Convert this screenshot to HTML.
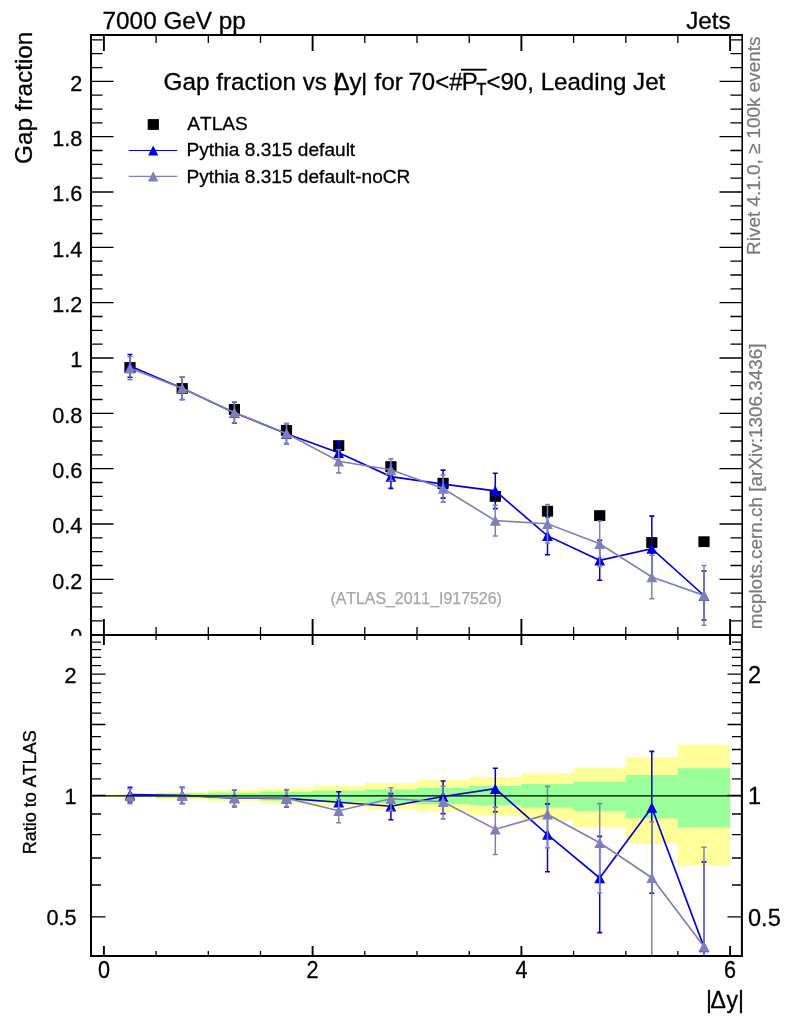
<!DOCTYPE html>
<html lang="en"><head><meta charset="utf-8"><title>Gap fraction vs |Δy| for 70&lt;pT&lt;90, Leading Jet</title>
<style>html,body{margin:0;padding:0;background:#fff}body{width:786px;height:1024px;overflow:hidden}svg{display:block}text{font-kerning:none}</style>
</head><body>
<svg width="786" height="1024" viewBox="0 0 786 1024" font-family="'Liberation Sans', Arial, Helvetica, sans-serif">
<defs>
<clipPath id="ct"><rect x="91.0" y="35.0" width="651.0" height="601.0"/></clipPath>
<clipPath id="cb"><rect x="91.0" y="635.0" width="651.0" height="321.0"/></clipPath>
<clipPath id="cl"><rect x="0" y="0" width="91.0" height="635.8"/></clipPath>
</defs>
<rect width="786" height="1024" fill="#fff"/>
<g clip-path="url(#cb)">
<rect x="103.9" y="794.6" width="52.5" height="2.3" fill="#ffff99"/>
<rect x="156.1" y="792.2" width="52.5" height="7.1" fill="#ffff99"/>
<rect x="208.3" y="790.3" width="52.5" height="10.6" fill="#ffff99"/>
<rect x="260.5" y="788.3" width="52.5" height="15.5" fill="#ffff99"/>
<rect x="312.6" y="786.0" width="52.5" height="20.3" fill="#ffff99"/>
<rect x="364.8" y="782.9" width="52.5" height="26.0" fill="#ffff99"/>
<rect x="417.0" y="780.1" width="52.5" height="31.6" fill="#ffff99"/>
<rect x="469.2" y="776.9" width="52.5" height="38.7" fill="#ffff99"/>
<rect x="521.4" y="773.0" width="52.5" height="47.3" fill="#ffff99"/>
<rect x="573.6" y="767.9" width="52.5" height="59.1" fill="#ffff99"/>
<rect x="625.8" y="757.2" width="52.5" height="86.8" fill="#ffff99"/>
<rect x="677.9" y="744.6" width="52.2" height="121.1" fill="#ffff99"/>
<rect x="103.9" y="795.0" width="52.5" height="1.5" fill="#99ff99"/>
<rect x="156.1" y="793.4" width="52.5" height="4.6" fill="#99ff99"/>
<rect x="208.3" y="792.6" width="52.5" height="6.0" fill="#99ff99"/>
<rect x="260.5" y="791.7" width="52.5" height="8.8" fill="#99ff99"/>
<rect x="312.6" y="790.6" width="52.5" height="11.2" fill="#99ff99"/>
<rect x="364.8" y="789.3" width="52.5" height="14.3" fill="#99ff99"/>
<rect x="417.0" y="787.8" width="52.5" height="16.4" fill="#99ff99"/>
<rect x="469.2" y="786.0" width="52.5" height="19.3" fill="#99ff99"/>
<rect x="521.4" y="784.0" width="52.5" height="23.7" fill="#99ff99"/>
<rect x="573.6" y="781.7" width="52.5" height="29.5" fill="#99ff99"/>
<rect x="625.8" y="775.0" width="52.5" height="43.3" fill="#99ff99"/>
<rect x="677.9" y="768.2" width="52.2" height="59.2" fill="#99ff99"/>
</g>
<path d="M91.0,634.6h22.5M742.0,634.6h-22.5M91.0,620.8h11.6M742.0,620.8h-11.6M91.0,606.9h11.6M742.0,606.9h-11.6M91.0,593.1h11.6M742.0,593.1h-11.6M91.0,579.3h22.5M742.0,579.3h-22.5M91.0,565.5h11.6M742.0,565.5h-11.6M91.0,551.6h11.6M742.0,551.6h-11.6M91.0,537.8h11.6M742.0,537.8h-11.6M91.0,524.0h22.5M742.0,524.0h-22.5M91.0,510.1h11.6M742.0,510.1h-11.6M91.0,496.3h11.6M742.0,496.3h-11.6M91.0,482.5h11.6M742.0,482.5h-11.6M91.0,468.6h22.5M742.0,468.6h-22.5M91.0,454.8h11.6M742.0,454.8h-11.6M91.0,441.0h11.6M742.0,441.0h-11.6M91.0,427.1h11.6M742.0,427.1h-11.6M91.0,413.3h22.5M742.0,413.3h-22.5M91.0,399.5h11.6M742.0,399.5h-11.6M91.0,385.7h11.6M742.0,385.7h-11.6M91.0,371.8h11.6M742.0,371.8h-11.6M91.0,358.0h22.5M742.0,358.0h-22.5M91.0,344.2h11.6M742.0,344.2h-11.6M91.0,330.3h11.6M742.0,330.3h-11.6M91.0,316.5h11.6M742.0,316.5h-11.6M91.0,302.7h22.5M742.0,302.7h-22.5M91.0,288.9h11.6M742.0,288.9h-11.6M91.0,275.0h11.6M742.0,275.0h-11.6M91.0,261.2h11.6M742.0,261.2h-11.6M91.0,247.4h22.5M742.0,247.4h-22.5M91.0,233.5h11.6M742.0,233.5h-11.6M91.0,219.7h11.6M742.0,219.7h-11.6M91.0,205.9h11.6M742.0,205.9h-11.6M91.0,192.0h22.5M742.0,192.0h-22.5M91.0,178.2h11.6M742.0,178.2h-11.6M91.0,164.4h11.6M742.0,164.4h-11.6M91.0,150.5h11.6M742.0,150.5h-11.6M91.0,136.7h22.5M742.0,136.7h-22.5M91.0,122.9h11.6M742.0,122.9h-11.6M91.0,109.1h11.6M742.0,109.1h-11.6M91.0,95.2h11.6M742.0,95.2h-11.6M91.0,81.4h22.5M742.0,81.4h-22.5M91.0,67.6h11.6M742.0,67.6h-11.6M91.0,53.7h11.6M742.0,53.7h-11.6M91.0,39.9h11.6M742.0,39.9h-11.6M156.1,35.0v8M156.1,627.0V640.0M156.1,956.0v-5M208.3,35.0v8M208.3,627.0V640.0M208.3,956.0v-5M260.5,35.0v8M260.5,627.0V640.0M260.5,956.0v-5M364.8,35.0v8M364.8,627.0V640.0M364.8,956.0v-5M417.0,35.0v8M417.0,627.0V640.0M417.0,956.0v-5M469.2,35.0v8M469.2,627.0V640.0M469.2,956.0v-5M573.6,35.0v8M573.6,627.0V640.0M573.6,956.0v-5M625.8,35.0v8M625.8,627.0V640.0M625.8,956.0v-5M677.9,35.0v8M677.9,627.0V640.0M677.9,956.0v-5M91.0,956.0h10M742.0,956.0h-10M91.0,916.9h14.5M742.0,916.9h-14.5M91.0,885.0h10M742.0,885.0h-10M91.0,858.0h10M742.0,858.0h-10M91.0,834.6h10M742.0,834.6h-10M91.0,814.0h10M742.0,814.0h-10M91.0,795.5h14.5M742.0,795.5h-14.5M91.0,778.8h10M742.0,778.8h-10M91.0,763.6h10M742.0,763.6h-10M91.0,749.5h10M742.0,749.5h-10M91.0,736.6h10M742.0,736.6h-10M91.0,724.5h14.5M742.0,724.5h-14.5M91.0,713.2h10M742.0,713.2h-10M91.0,702.6h10M742.0,702.6h-10M91.0,692.6h10M742.0,692.6h-10M91.0,683.1h10M742.0,683.1h-10M91.0,674.1h14.5M742.0,674.1h-14.5M91.0,665.6h10M742.0,665.6h-10M91.0,657.4h10M742.0,657.4h-10M91.0,649.6h10M742.0,649.6h-10M91.0,642.2h10M742.0,642.2h-10M91.0,635.0h10M742.0,635.0h-10" stroke="#000" stroke-width="1.3" fill="none"/>
<path d="M103.9,35.0v16M103.9,619.0V645.0M103.9,956.0v-10M312.6,35.0v16M312.6,619.0V645.0M312.6,956.0v-10M521.4,35.0v16M521.4,619.0V645.0M521.4,956.0v-10M730.1,35.0v16M730.1,619.0V645.0M730.1,956.0v-10" stroke="#000" stroke-width="1.9" fill="none"/>
<g clip-path="url(#ct)">
<rect x="124.4" y="362.1" width="11.2" height="10.8" fill="#000"/>
<rect x="176.6" y="383.1" width="11.2" height="10.8" fill="#000"/>
<rect x="228.8" y="404.0" width="11.2" height="10.8" fill="#000"/>
<rect x="280.9" y="425.0" width="11.2" height="10.8" fill="#000"/>
<rect x="333.1" y="440.2" width="11.2" height="10.8" fill="#000"/>
<rect x="385.3" y="461.2" width="11.2" height="10.8" fill="#000"/>
<rect x="437.5" y="477.8" width="11.2" height="10.8" fill="#000"/>
<rect x="489.7" y="491.0" width="11.2" height="10.8" fill="#000"/>
<rect x="541.9" y="505.8" width="11.2" height="10.8" fill="#000"/>
<rect x="594.1" y="510.2" width="11.2" height="10.8" fill="#000"/>
<rect x="646.2" y="537.1" width="11.2" height="10.8" fill="#000"/>
<rect x="698.4" y="536.3" width="11.2" height="10.8" fill="#000"/>
</g>
<g clip-path="url(#ct)" stroke="#0000de" fill="#0000de">
<polyline points="130.0,365.9 182.2,388.2 234.4,412.7 286.5,433.7 338.7,452.8 390.9,476.6 443.1,484.1 495.3,490.9 547.5,535.9 599.7,560.3 651.8,548.6 704.0,595.5" fill="none" stroke-width="1.65"/>
<path d="M130.0,354.5V377.3" fill="none" stroke-width="1.5"/><path d="M127.5,354.5h5M127.5,377.3h5" fill="none" stroke-width="1.6"/>
<path d="M182.2,376.9V399.5" fill="none" stroke-width="1.5"/><path d="M179.7,376.9h5M179.7,399.5h5" fill="none" stroke-width="1.6"/>
<path d="M234.4,402.2V423.2" fill="none" stroke-width="1.5"/><path d="M231.9,402.2h5M231.9,423.2h5" fill="none" stroke-width="1.6"/>
<path d="M286.5,423.7V443.7" fill="none" stroke-width="1.5"/><path d="M284.0,423.7h5M284.0,443.7h5" fill="none" stroke-width="1.6"/>
<path d="M338.7,441.6V464.0" fill="none" stroke-width="1.5"/><path d="M336.2,441.6h5M336.2,464.0h5" fill="none" stroke-width="1.6"/>
<path d="M390.9,464.8V488.4" fill="none" stroke-width="1.5"/><path d="M388.4,464.8h5M388.4,488.4h5" fill="none" stroke-width="1.6"/>
<path d="M443.1,470.1V498.1" fill="none" stroke-width="1.5"/><path d="M440.6,470.1h5M440.6,498.1h5" fill="none" stroke-width="1.6"/>
<path d="M495.3,473.2V508.6" fill="none" stroke-width="1.5"/><path d="M492.8,473.2h5M492.8,508.6h5" fill="none" stroke-width="1.6"/>
<path d="M547.5,517.0V554.8" fill="none" stroke-width="1.5"/><path d="M545.0,517.0h5M545.0,554.8h5" fill="none" stroke-width="1.6"/>
<path d="M599.7,540.4V580.2" fill="none" stroke-width="1.5"/><path d="M597.2,540.4h5M597.2,580.2h5" fill="none" stroke-width="1.6"/>
<path d="M651.8,516.1V581.1" fill="none" stroke-width="1.5"/><path d="M649.3,516.1h5M649.3,581.1h5" fill="none" stroke-width="1.6"/>
<path d="M704.0,571.0V620.0" fill="none" stroke-width="1.5"/><path d="M701.5,571.0h5M701.5,620.0h5" fill="none" stroke-width="1.6"/>
<path d="M124.6,371.1h10.8L130.0,360.6z" stroke="none"/>
<path d="M176.8,393.4h10.8L182.2,382.9z" stroke="none"/>
<path d="M229.0,417.9h10.8L234.4,407.4z" stroke="none"/>
<path d="M281.1,438.9h10.8L286.5,428.4z" stroke="none"/>
<path d="M333.3,458.0h10.8L338.7,447.5z" stroke="none"/>
<path d="M385.5,481.8h10.8L390.9,471.3z" stroke="none"/>
<path d="M437.7,489.3h10.8L443.1,478.8z" stroke="none"/>
<path d="M489.9,496.1h10.8L495.3,485.6z" stroke="none"/>
<path d="M542.1,541.1h10.8L547.5,530.6z" stroke="none"/>
<path d="M594.3,565.5h10.8L599.7,555.0z" stroke="none"/>
<path d="M646.4,553.8h10.8L651.8,543.3z" stroke="none"/>
<path d="M698.6,600.7h10.8L704.0,590.2z" stroke="none"/>
</g>
<g clip-path="url(#ct)" stroke="#8080b8" fill="#8080b8">
<polyline points="130.0,368.2 182.2,388.3 234.4,412.5 286.5,433.4 338.7,461.3 390.9,469.7 443.1,488.5 495.3,520.6 547.5,523.8 599.7,543.7 651.8,577.0 704.0,595.4" fill="none" stroke-width="1.65"/>
<path d="M130.0,356.8V379.6" fill="none" stroke-width="1.5"/><path d="M127.5,356.8h5M127.5,379.6h5" fill="none" stroke-width="1.6"/>
<path d="M182.2,376.9V399.7" fill="none" stroke-width="1.5"/><path d="M179.7,376.9h5M179.7,399.7h5" fill="none" stroke-width="1.6"/>
<path d="M234.4,402.0V423.0" fill="none" stroke-width="1.5"/><path d="M231.9,402.0h5M231.9,423.0h5" fill="none" stroke-width="1.6"/>
<path d="M286.5,423.4V443.4" fill="none" stroke-width="1.5"/><path d="M284.0,423.4h5M284.0,443.4h5" fill="none" stroke-width="1.6"/>
<path d="M338.7,449.7V472.9" fill="none" stroke-width="1.5"/><path d="M336.2,449.7h5M336.2,472.9h5" fill="none" stroke-width="1.6"/>
<path d="M390.9,458.9V480.5" fill="none" stroke-width="1.5"/><path d="M388.4,458.9h5M388.4,480.5h5" fill="none" stroke-width="1.6"/>
<path d="M443.1,474.9V502.1" fill="none" stroke-width="1.5"/><path d="M440.6,474.9h5M440.6,502.1h5" fill="none" stroke-width="1.6"/>
<path d="M495.3,505.2V536.0" fill="none" stroke-width="1.5"/><path d="M492.8,505.2h5M492.8,536.0h5" fill="none" stroke-width="1.6"/>
<path d="M547.5,504.6V543.0" fill="none" stroke-width="1.5"/><path d="M545.0,504.6h5M545.0,543.0h5" fill="none" stroke-width="1.6"/>
<path d="M599.7,521.0V566.4" fill="none" stroke-width="1.5"/><path d="M597.2,521.0h5M597.2,566.4h5" fill="none" stroke-width="1.6"/>
<path d="M651.8,555.3V598.7" fill="none" stroke-width="1.5"/><path d="M649.3,555.3h5M649.3,598.7h5" fill="none" stroke-width="1.6"/>
<path d="M704.0,565.5V625.3" fill="none" stroke-width="1.5"/><path d="M701.5,565.5h5M701.5,625.3h5" fill="none" stroke-width="1.6"/>
<path d="M124.6,373.4h10.8L130.0,362.9z" stroke="none"/>
<path d="M176.8,393.5h10.8L182.2,383.0z" stroke="none"/>
<path d="M229.0,417.7h10.8L234.4,407.2z" stroke="none"/>
<path d="M281.1,438.6h10.8L286.5,428.1z" stroke="none"/>
<path d="M333.3,466.5h10.8L338.7,456.0z" stroke="none"/>
<path d="M385.5,474.9h10.8L390.9,464.4z" stroke="none"/>
<path d="M437.7,493.7h10.8L443.1,483.2z" stroke="none"/>
<path d="M489.9,525.8h10.8L495.3,515.3z" stroke="none"/>
<path d="M542.1,529.0h10.8L547.5,518.5z" stroke="none"/>
<path d="M594.3,548.9h10.8L599.7,538.4z" stroke="none"/>
<path d="M646.4,582.2h10.8L651.8,571.7z" stroke="none"/>
<path d="M698.6,600.6h10.8L704.0,590.1z" stroke="none"/>
</g>
<g clip-path="url(#cb)" stroke="#0000de" fill="#0000de">
<polyline points="130.0,794.5 182.2,795.3 234.4,798.1 286.5,798.4 338.7,802.3 390.9,806.2 443.1,796.5 495.3,788.7 547.5,834.6 599.7,878.0 651.8,807.5 704.0,947.1" fill="none" stroke-width="1.65"/>
<path d="M130.0,787.2V802.0" fill="none" stroke-width="1.5"/><path d="M127.5,787.2h5M127.5,802.0h5" fill="none" stroke-width="1.6"/>
<path d="M182.2,787.4V803.5" fill="none" stroke-width="1.5"/><path d="M179.7,787.4h5M179.7,803.5h5" fill="none" stroke-width="1.6"/>
<path d="M234.4,790.0V806.6" fill="none" stroke-width="1.5"/><path d="M231.9,790.0h5M231.9,806.6h5" fill="none" stroke-width="1.6"/>
<path d="M286.5,789.8V807.3" fill="none" stroke-width="1.5"/><path d="M284.0,789.8h5M284.0,807.3h5" fill="none" stroke-width="1.6"/>
<path d="M338.7,791.8V813.4" fill="none" stroke-width="1.5"/><path d="M336.2,791.8h5M336.2,813.4h5" fill="none" stroke-width="1.6"/>
<path d="M390.9,793.6V819.8" fill="none" stroke-width="1.5"/><path d="M388.4,793.6h5M388.4,819.8h5" fill="none" stroke-width="1.6"/>
<path d="M443.1,781.0V813.6" fill="none" stroke-width="1.5"/><path d="M440.6,781.0h5M440.6,813.6h5" fill="none" stroke-width="1.6"/>
<path d="M495.3,768.3V811.7" fill="none" stroke-width="1.5"/><path d="M492.8,768.3h5M492.8,811.7h5" fill="none" stroke-width="1.6"/>
<path d="M547.5,803.9V871.8" fill="none" stroke-width="1.5"/><path d="M545.0,803.9h5M545.0,871.8h5" fill="none" stroke-width="1.6"/>
<path d="M599.7,836.4V932.6" fill="none" stroke-width="1.5"/><path d="M597.2,836.4h5M597.2,932.6h5" fill="none" stroke-width="1.6"/>
<path d="M651.8,751.4V893.3" fill="none" stroke-width="1.5"/><path d="M649.3,751.4h5M649.3,893.3h5" fill="none" stroke-width="1.6"/>
<path d="M704.0,861.9V1119.6" fill="none" stroke-width="1.5"/><path d="M701.5,861.9h5M701.5,1119.6h5" fill="none" stroke-width="1.6"/>
<path d="M124.6,799.7h10.8L130.0,789.2z" stroke="none"/>
<path d="M176.8,800.5h10.8L182.2,790.0z" stroke="none"/>
<path d="M229.0,803.3h10.8L234.4,792.8z" stroke="none"/>
<path d="M281.1,803.6h10.8L286.5,793.1z" stroke="none"/>
<path d="M333.3,807.5h10.8L338.7,797.0z" stroke="none"/>
<path d="M385.5,811.4h10.8L390.9,800.9z" stroke="none"/>
<path d="M437.7,801.7h10.8L443.1,791.2z" stroke="none"/>
<path d="M489.9,793.9h10.8L495.3,783.4z" stroke="none"/>
<path d="M542.1,839.8h10.8L547.5,829.3z" stroke="none"/>
<path d="M594.3,883.2h10.8L599.7,872.7z" stroke="none"/>
<path d="M646.4,812.7h10.8L651.8,802.2z" stroke="none"/>
<path d="M698.6,952.3h10.8L704.0,941.8z" stroke="none"/>
</g>
<g clip-path="url(#cb)" stroke="#8080b8" fill="#8080b8">
<polyline points="130.0,796.0 182.2,795.4 234.4,797.9 286.5,798.1 338.7,810.7 390.9,798.8 443.1,801.7 495.3,829.2 547.5,814.4 599.7,842.7 651.8,877.7 704.0,946.6" fill="none" stroke-width="1.65"/>
<path d="M130.0,788.6V803.6" fill="none" stroke-width="1.5"/><path d="M127.5,788.6h5M127.5,803.6h5" fill="none" stroke-width="1.6"/>
<path d="M182.2,787.5V803.6" fill="none" stroke-width="1.5"/><path d="M179.7,787.5h5M179.7,803.6h5" fill="none" stroke-width="1.6"/>
<path d="M234.4,789.8V806.4" fill="none" stroke-width="1.5"/><path d="M231.9,789.8h5M231.9,806.4h5" fill="none" stroke-width="1.6"/>
<path d="M286.5,789.6V807.0" fill="none" stroke-width="1.5"/><path d="M284.0,789.6h5M284.0,807.0h5" fill="none" stroke-width="1.6"/>
<path d="M338.7,799.3V822.8" fill="none" stroke-width="1.5"/><path d="M336.2,799.3h5M336.2,822.8h5" fill="none" stroke-width="1.6"/>
<path d="M390.9,787.7V810.6" fill="none" stroke-width="1.5"/><path d="M388.4,787.7h5M388.4,810.6h5" fill="none" stroke-width="1.6"/>
<path d="M443.1,786.2V818.9" fill="none" stroke-width="1.5"/><path d="M440.6,786.2h5M440.6,818.9h5" fill="none" stroke-width="1.6"/>
<path d="M495.3,807.1V854.5" fill="none" stroke-width="1.5"/><path d="M492.8,807.1h5M492.8,854.5h5" fill="none" stroke-width="1.6"/>
<path d="M547.5,786.4V847.7" fill="none" stroke-width="1.5"/><path d="M545.0,786.4h5M545.0,847.7h5" fill="none" stroke-width="1.6"/>
<path d="M599.7,803.6V893.0" fill="none" stroke-width="1.5"/><path d="M597.2,803.6h5M597.2,893.0h5" fill="none" stroke-width="1.6"/>
<path d="M651.8,821.7V960.5" fill="none" stroke-width="1.5"/><path d="M649.3,821.7h5M649.3,960.5h5" fill="none" stroke-width="1.6"/>
<path d="M704.0,847.3V1198.6" fill="none" stroke-width="1.5"/><path d="M701.5,847.3h5M701.5,1198.6h5" fill="none" stroke-width="1.6"/>
<path d="M124.6,801.2h10.8L130.0,790.7z" stroke="none"/>
<path d="M176.8,800.6h10.8L182.2,790.1z" stroke="none"/>
<path d="M229.0,803.1h10.8L234.4,792.6z" stroke="none"/>
<path d="M281.1,803.3h10.8L286.5,792.8z" stroke="none"/>
<path d="M333.3,815.9h10.8L338.7,805.4z" stroke="none"/>
<path d="M385.5,804.0h10.8L390.9,793.5z" stroke="none"/>
<path d="M437.7,806.9h10.8L443.1,796.4z" stroke="none"/>
<path d="M489.9,834.4h10.8L495.3,823.9z" stroke="none"/>
<path d="M542.1,819.6h10.8L547.5,809.1z" stroke="none"/>
<path d="M594.3,847.9h10.8L599.7,837.4z" stroke="none"/>
<path d="M646.4,882.9h10.8L651.8,872.4z" stroke="none"/>
<path d="M698.6,951.8h10.8L704.0,941.3z" stroke="none"/>
</g>
<path d="M91.0,795.9H742.0" stroke="#000" stroke-width="1.35"/>
<path d="M91.0,957.0V35.0M741.9,957.0V635.0M90.0,35.0H743.0M91.0,635.0H742.0M90.0,956.0H743.0" stroke="#000" stroke-width="2" fill="none"/>
<path d="M742.2,635.0V35.0" stroke="#000" stroke-width="1.6" fill="none"/>
<rect x="147.7" y="119.1" width="11.2" height="10.8" fill="#000"/>
<path d="M128.7,150.5H177.3" stroke="#0000de" stroke-width="1.2"/><path d="M148.1,155.6h10.2L153.2,145.4z" fill="#0000de"/>
<path d="M128.7,176.4H177.3" stroke="#8080b8" stroke-width="1.2"/><path d="M148.1,181.5h10.2L153.2,171.3z" fill="#8080b8"/>
<g fill="#000" stroke="#000" stroke-width="0.3">
<text x="102.6" y="29" font-size="24.3">7000 GeV pp</text>
<text x="730.7" y="29" font-size="24.3" text-anchor="end">Jets</text>
<text id="title" y="90.4" font-size="24.3"><tspan x="163.6">Gap fraction vs</tspan><tspan x="333.5">|</tspan><tspan x="333.4">Δ</tspan><tspan x="349.4">y</tspan><tspan x="361">|</tspan><tspan x="374.4">for</tspan><tspan x="408.5" font-size="24">70&lt;#</tspan><tspan x="461.8" font-size="24">P</tspan><tspan x="476.2" font-size="16.8" dy="5">T</tspan><tspan x="486.4" dy="-5" font-size="24.1">&lt;90, Leading Jet</tspan></text>
<path d="M460.9,69.7H486.6" stroke="#000" stroke-width="1.9"/>
<text x="187.3" y="129.9" font-size="19.1">ATLAS</text>
<text x="186.4" y="156.2" font-size="19.1">Pythia 8.315 default</text>
<text x="186.4" y="182.7" font-size="19.1" id="leg3">Pythia 8.315 default-noCR</text>
<g clip-path="url(#cl)">
<text transform="translate(82.4,643.8) scale(0.95,1)" font-size="22.8" text-anchor="end">0</text>
<text transform="translate(82.4,588.5) scale(0.95,1)" font-size="22.8" text-anchor="end">0.2</text>
<text transform="translate(82.4,533.2) scale(0.95,1)" font-size="22.8" text-anchor="end">0.4</text>
<text transform="translate(82.4,477.8) scale(0.95,1)" font-size="22.8" text-anchor="end">0.6</text>
<text transform="translate(82.4,422.5) scale(0.95,1)" font-size="22.8" text-anchor="end">0.8</text>
<text transform="translate(82.4,367.2) scale(0.95,1)" font-size="22.8" text-anchor="end">1</text>
<text transform="translate(82.4,311.9) scale(0.95,1)" font-size="22.8" text-anchor="end">1.2</text>
<text transform="translate(82.4,256.6) scale(0.95,1)" font-size="22.8" text-anchor="end">1.4</text>
<text transform="translate(82.4,201.2) scale(0.95,1)" font-size="22.8" text-anchor="end">1.6</text>
<text transform="translate(82.4,145.9) scale(0.95,1)" font-size="22.8" text-anchor="end">1.8</text>
<text transform="translate(82.4,90.6) scale(0.95,1)" font-size="22.8" text-anchor="end">2</text>
</g>
<text transform="translate(76.6,682.6) scale(0.95,1)" font-size="22.8" text-anchor="end">2</text>
<text transform="translate(748.0,683.0) scale(0.97,1)" font-size="24.3" text-anchor="start">2</text>
<text transform="translate(76.6,804.0) scale(0.95,1)" font-size="22.8" text-anchor="end">1</text>
<text transform="translate(748.0,804.4) scale(0.97,1)" font-size="24.3" text-anchor="start">1</text>
<text transform="translate(76.6,925.4) scale(0.95,1)" font-size="22.8" text-anchor="end">0.5</text>
<text transform="translate(748.0,925.8) scale(0.97,1)" font-size="24.3" text-anchor="start">0.5</text>
<text transform="translate(103.9,978.3) scale(0.9,1)" font-size="24" text-anchor="middle">0</text>
<text transform="translate(312.6,978.3) scale(0.9,1)" font-size="24" text-anchor="middle">2</text>
<text transform="translate(521.4,978.3) scale(0.9,1)" font-size="24" text-anchor="middle">4</text>
<text transform="translate(730.1,978.3) scale(0.9,1)" font-size="24" text-anchor="middle">6</text>
<text y="1007.5" font-size="23"><tspan x="706">|</tspan><tspan x="710.4">Δ</tspan><tspan x="726.4">y</tspan><tspan x="738">|</tspan></text>
<text transform="translate(31.6,164) rotate(-90)" font-size="24.3">Gap fraction</text>
<text transform="translate(36.3,854.3) rotate(-90)" font-size="18">Ratio to ATLAS</text>
</g>
<g fill="#7b7b7b" stroke="#7b7b7b" stroke-width="0.25">
<text transform="translate(760.4,254.9) rotate(-90)" font-size="18.9">Rivet 4.1.0, ≥ 100k events</text>
<text transform="translate(762.3,629.3) rotate(-90)" font-size="18.92">mcplots.cern.ch [arXiv:1306.3436]</text>
<text x="416.1" y="604.2" font-size="15.9" text-anchor="middle" fill="#a6a6a6" stroke="#a6a6a6">(ATLAS_2011_I917526)</text>
</g>
</svg>
</body></html>
